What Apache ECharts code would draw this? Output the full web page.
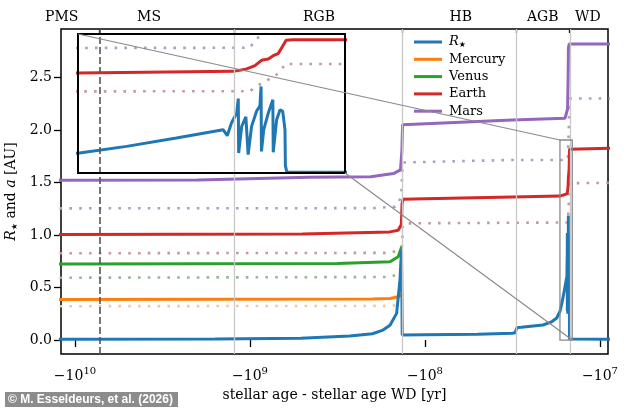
<!DOCTYPE html>
<html>
<head>
<meta charset="utf-8">
<script src="https://cdn.jsdelivr.net/npm/echarts@6/dist/echarts.min.js"></script>
<style>
html, body { margin: 0; padding: 0; background: #fff; }
#chart { width: 634px; height: 408px; }
</style>
</head>
<body>
<div id="chart"></div>
<script>
// x values are -log10(age_WD - age): -10 means -10^10 yr before the white dwarf
var phaseNames = ['PMS', 'MS', 'RGB', 'HB', 'AGB', 'WD'];
var phaseLabelAt = [-10.076, -9.577, -8.606, -7.795, -7.327, -7.069];
var phaseEdges = [-9.863, -9.091, -8.127, -7.476, -7.175];
var xTicks = [-10, -9, -8, -7];
var yTicks = [0, 0.5, 1, 1.5, 2, 2.5];
var insetX = [-7.2286, -7.1583];
var insetY = [0, 1.905];

// stellar radius
var starAge = [-10.2, -9.2, -8.71, -8.43, -8.3, -8.24, -8.2, -8.162, -8.143, -8.134, -8.130,
  -8.0, -7.7, -7.5, -7.485, -7.474, -7.45, -7.326, -7.28, -7.247,
  -7.2282, -7.2158, -7.2027, -7.1904, -7.1899, -7.1893, -7.1882, -7.1868, -7.1864, -7.1863,
  -7.1855, -7.1844, -7.1839, -7.1838, -7.1829, -7.1816, -7.1807, -7.1804, -7.1803,
  -7.1797, -7.1785, -7.1773, -7.1772, -7.1763, -7.1754, -7.1747, -7.1741, -7.1740, -7.1736, -6.9];
var starRadius = [0.006, 0.01, 0.018, 0.038, 0.06, 0.095, 0.14, 0.254, 0.571, 0.86, 0.048,
  0.05, 0.055, 0.064, 0.07, 0.12, 0.122, 0.143, 0.17, 0.21,
  0.274, 0.365, 0.48, 0.594, 0.603, 0.511, 0.686, 0.822, 1.02, 0.274,
  0.639, 0.768, 0.78, 0.251, 0.639, 0.845, 0.923, 1.187, 0.296,
  0.594, 0.822, 1.005, 0.283, 0.731, 0.868, 0.845, 0.594, 0.1, 0.01, 0.008];

// Mercury
var mercuryAge = [-10.2, -8.3, -8.2, -8.153, -8.133, -8.129];
var mercuryA = [0.387, 0.39, 0.395, 0.413, 0.43, 0.44];
var mercuryDotAge = [-10.2, -8.2, -8.14, -8.13];
var mercuryDot = [0.322, 0.325, 0.335, 0.34];

// Venus
var venusAge = [-10.2, -8.5, -8.2, -8.153, -8.143, -8.133];
var venusA = [0.724, 0.73, 0.746, 0.793, 0.81, 0.889];
var venusDotAge = [-10.2, -8.2, -8.15, -8.135];
var venusDot = [0.593, 0.6, 0.63, 0.64];

// Earth
var earthAge = [-10.2, -8.7, -8.2, -8.153, -8.135, -8.131, -8.125, -8.0, -7.5, -7.2286,
  -7.1877, -7.1842, -7.182, -7.1803, -7.1785, -7.1772, -7.1759, -7.175, -7.1738, -7.172, -6.9];
var earthA = [1.005, 1.01, 1.03, 1.045, 1.1, 1.3, 1.34, 1.345, 1.362, 1.371,
  1.393, 1.426, 1.471, 1.544, 1.563, 1.608, 1.636, 1.714, 1.818, 1.827, 1.827];
var earthDotAge = [-10.2, -8.2, -8.15, -8.13, -8.128, -8.12, -7.5, -7.2286, -7.1834,
  -7.1816, -7.1794, -7.1768, -7.175, -7.1741, -6.9];
var earthDot = [0.826, 0.83, 0.857, 0.9, 1.08, 1.111, 1.117, 1.119, 1.12,
  1.187, 1.256, 1.325, 1.416, 1.494, 1.497];

// Mars
var marsAge = [-10.2, -9.3, -8.66, -8.31, -8.18, -8.14, -8.132, -8.128, -8.12, -7.5, -7.2,
  -7.19, -7.185, -7.182, -7.18, -7.176, -6.9];
var marsA = [1.522, 1.523, 1.55, 1.556, 1.585, 1.62, 1.8, 2.05, 2.063, 2.095, 2.111,
  2.13, 2.2, 2.5, 2.78, 2.82, 2.82];
var marsDotAge = [-10.2, -8.3, -8.17, -8.15, -8.135, -8.13, -8.126, -8.1, -7.5, -7.2286,
  -7.1834, -7.1816, -7.179, -7.177, -7.175, -7.173, -6.9];
var marsDot = [1.254, 1.256, 1.27, 1.3, 1.4, 1.6, 1.69, 1.692, 1.715, 1.714,
  1.716, 1.837, 1.95, 2.1, 2.25, 2.3, 2.3];

var serif = 'DejaVu Serif';
var insetBox = { left: 78, top: 34, width: 267, height: 139 };

function pairs(xs, ys) {
  return xs.map(function (x, i) { return [x, ys[i]]; });
}

var lines = [
  { name: 'Mercury dot', data: pairs(mercuryDotAge, mercuryDot), color: '#efc9a3', dot: true },
  { name: 'Venus dot', data: pairs(venusDotAge, venusDot), color: '#97b59a', dot: true },
  { name: 'Earth dot', data: pairs(earthDotAge, earthDot), color: '#c69a9d', dot: true },
  { name: 'Mars dot', data: pairs(marsDotAge, marsDot), color: '#aca0c2', dot: true },
  { name: 'Mercury', data: pairs(mercuryAge, mercuryA), color: '#ff7f0e' },
  { name: 'Venus', data: pairs(venusAge, venusA), color: '#2ca02c' },
  { name: 'Earth', data: pairs(earthAge, earthA), color: '#d62728' },
  { name: 'Mars', data: pairs(marsAge, marsA), color: '#9467bd' },
  { name: 'Rstar', data: pairs(starAge, starRadius), color: '#1f77b4' }
];

var series = [{
  type: 'line', name: 'guides', data: [], xAxisIndex: 0, yAxisIndex: 0, z: 1,
  markLine: {
    silent: true, symbol: 'none', label: { show: false },
    data: phaseEdges.map(function (v, i) {
      return {
        xAxis: v,
        lineStyle: i === 0
          ? { color: '#555', width: 1.6, type: [7, 3] }
          : { color: '#c8c8c8', width: 1.3, type: 'solid' }
      };
    })
  }
}];

lines.forEach(function (l) {
  [0, 1].forEach(function (g) {
    series.push({
      type: 'line',
      name: l.name,
      data: l.data,
      xAxisIndex: g === 0 ? 0 : 2,
      yAxisIndex: g,
      z: g === 0 ? 2 : 4,
      symbol: 'none',
      clip: true,
      color: l.color,
      lineStyle: l.dot
        ? { color: l.color, width: 2.6, type: [2.6, 7.2] }
        : { color: l.color, width: 3 }
    });
  });
});

// star subscript, drawn a bit lower than the letter
var starSub = { fontFamily: 'DejaVu Sans', fontSize: 8, color: '#000', verticalAlign: 'bottom', padding: [7, 0, 0, 0] };

var chart = echarts.init(document.getElementById('chart'));
var option = {
  animation: false,
  grid: [
    { left: 61, right: 26, top: 29, bottom: 54, show: true, borderColor: '#000', borderWidth: 1.5, outerBoundsMode: 'none' },
    { left: insetBox.left, top: insetBox.top, width: insetBox.width, height: insetBox.height, outerBoundsMode: 'none' }
  ],
  xAxis: [
    {
      type: 'value', gridIndex: 0, min: -10.08, max: -6.954, position: 'bottom',
      axisLine: { show: false }, splitLine: { show: false },
      axisTick: { show: true, length: 7, lineStyle: { color: '#000', width: 1.3 }, customValues: xTicks },
      axisLabel: {
        customValues: xTicks, margin: 12, color: '#000', fontFamily: serif,
        formatter: function (v) { return '{m|−10}{e|' + Math.round(-v) + '}'; },
        rich: {
          m: { fontSize: 14, fontFamily: serif, color: '#000', lineHeight: 20 },
          e: { fontSize: 10, fontFamily: serif, color: '#000', verticalAlign: 'top', lineHeight: 12 }
        }
      },
      name: 'stellar age - stellar age WD [yr]', nameLocation: 'middle', nameGap: 32,
      nameTextStyle: { fontFamily: serif, fontSize: 14, color: '#000' }
    },
    {
      type: 'value', gridIndex: 0, min: -10.08, max: -6.954, position: 'top',
      axisLine: { show: false }, splitLine: { show: false },
      axisTick: { show: true, inside: true, length: 4, lineStyle: { color: '#000', width: 1.3 }, customValues: phaseEdges },
      axisLabel: {
        customValues: phaseLabelAt, margin: 5, color: '#000', fontFamily: serif, fontSize: 14,
        formatter: function (v) { return phaseNames[phaseLabelAt.indexOf(v)]; }
      }
    },
    { type: 'value', gridIndex: 1, min: insetX[0], max: insetX[1], show: false }
  ],
  yAxis: [
    {
      type: 'value', gridIndex: 0, min: -0.133, max: 2.962,
      axisLine: { show: false }, splitLine: { show: false },
      axisTick: { show: true, length: 7, lineStyle: { color: '#000', width: 1.3 }, customValues: yTicks },
      axisLabel: {
        customValues: yTicks, margin: 9, color: '#000', fontFamily: serif, fontSize: 14,
        formatter: function (v) { return v.toFixed(1); }
      },
      name: '{i|R}{s|★} and {i|a} [AU]', nameLocation: 'middle', nameGap: 40, nameRotate: 90,
      nameTextStyle: {
        fontFamily: serif, fontSize: 14, color: '#000',
        rich: {
          i: { fontFamily: serif, fontSize: 14, fontStyle: 'italic', color: '#000' },
          s: starSub
        }
      }
    },
    { type: 'value', gridIndex: 1, min: insetY[0], max: insetY[1], show: false }
  ],
  legend: {
    orient: 'vertical', left: 409, top: 30, itemWidth: 28, itemHeight: 3, itemGap: 3.3,
    data: ['Rstar', 'Mercury', 'Venus', 'Earth', 'Mars'].map(function (n) { return { name: n, icon: 'rect' }; }),
    formatter: function (n) { return n === 'Rstar' ? '{i|R}{s|★}' : n; },
    textStyle: {
      fontFamily: serif, fontSize: 13, color: '#000', lineHeight: 14, padding: [0, 0, 0, 2],
      rich: {
        i: { fontFamily: serif, fontSize: 13, fontStyle: 'italic', color: '#000' },
        s: starSub
      }
    }
  },
  series: series
};
chart.setOption(option);

// zoom box, inset frame and connector lines
var a = chart.convertToPixel({ xAxisIndex: 0, yAxisIndex: 0 }, [insetX[0], insetY[1]]);
var b = chart.convertToPixel({ xAxisIndex: 0, yAxisIndex: 0 }, [insetX[1], insetY[0]]);
var ix2 = insetBox.left + insetBox.width, iy2 = insetBox.top + insetBox.height;
chart.setOption({
  graphic: [
    { type: 'rect', z: 3, shape: { x: insetBox.left, y: insetBox.top, width: insetBox.width, height: insetBox.height }, style: { fill: '#fff', stroke: null } },
    { type: 'rect', z: 6, shape: { x: insetBox.left, y: insetBox.top, width: insetBox.width, height: insetBox.height }, style: { fill: null, stroke: '#000', lineWidth: 2 } },
    { type: 'rect', z: 6, shape: { x: a[0], y: a[1], width: b[0] - a[0], height: b[1] - a[1] }, style: { fill: null, stroke: '#8a8a8a', lineWidth: 1.3 } },
    { type: 'line', z: 6, shape: { x1: insetBox.left, y1: insetBox.top, x2: a[0], y2: a[1] }, style: { stroke: '#8a8a8a', lineWidth: 1.2 } },
    { type: 'line', z: 6, shape: { x1: ix2, y1: iy2, x2: b[0], y2: b[1] }, style: { stroke: '#8a8a8a', lineWidth: 1.2 } },
    { type: 'rect', z: 7, shape: { x: 5, y: 392, width: 173, height: 15 }, style: { fill: '#8c8c8c' } },
    { type: 'text', z: 8, x: 8, y: 399.5, style: { text: '© M. Esseldeurs, et al. (2026)', fill: '#fff', font: 'bold 12px "Liberation Sans"', verticalAlign: 'middle' } }
  ]
});
</script>
</body>
</html>
